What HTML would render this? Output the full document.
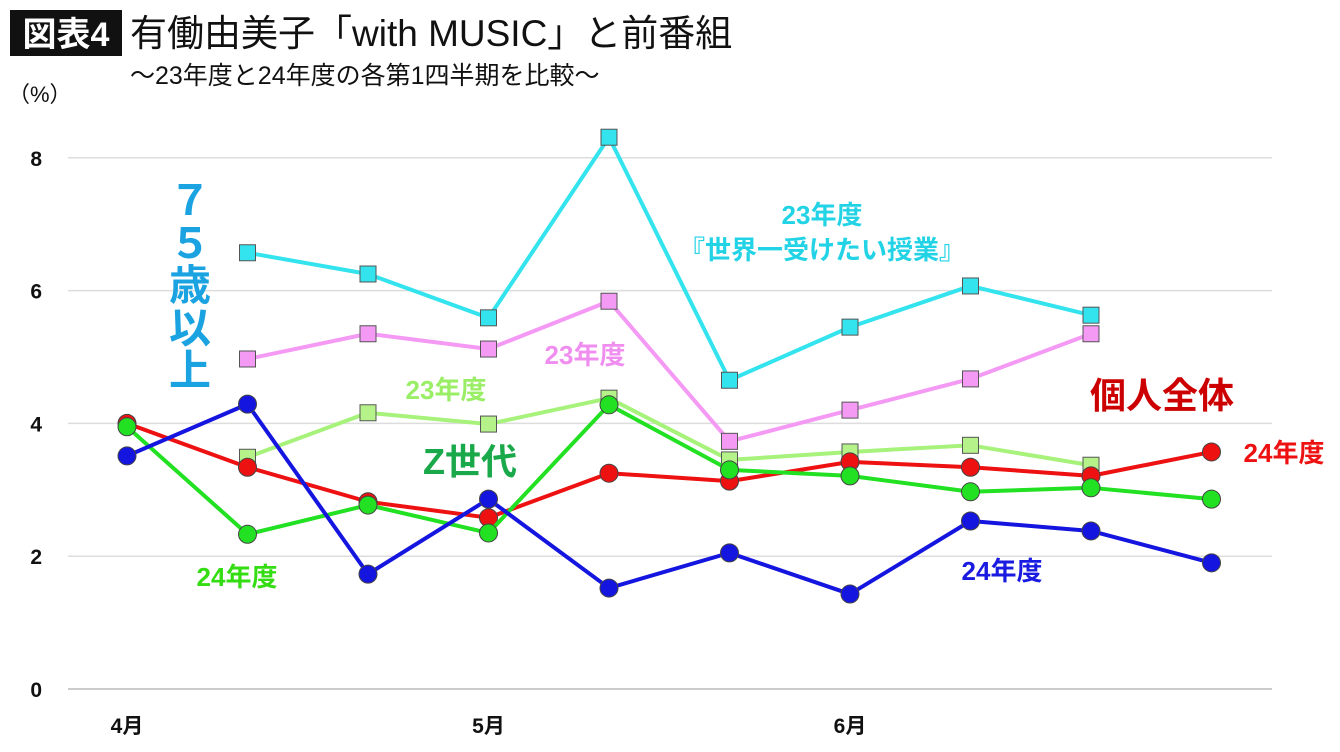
<!DOCTYPE html>
<html><head><meta charset="utf-8"><style>
body{margin:0;background:#fff;}
svg text{font-family:"Liberation Sans","Noto Sans CJK JP",sans-serif;}
</style></head><body>
<svg width="1340" height="747" xmlns="http://www.w3.org/2000/svg" id="chart">
<rect x="10" y="10" width="112" height="46" fill="#111"/>
<text x="66" y="46" font-size="34" font-weight="bold" fill="#fff" text-anchor="middle">図表4</text>
<text x="130" y="46" font-size="37" fill="#111">有働由美子「with MUSIC」と前番組</text>
<text x="130" y="84" font-size="25" fill="#111">〜23年度と24年度の各第1四半期を比較〜</text>
<text x="8" y="102" font-size="22" fill="#111">（%）</text>
<g id="grid"></g><g id="series"></g>
<text x="190" y="215" font-size="42" font-weight="bold" fill="#1aa3e0" text-anchor="middle">７</text>
<text x="190" y="258" font-size="42" font-weight="bold" fill="#1aa3e0" text-anchor="middle">５</text>
<text x="190" y="300" font-size="42" font-weight="bold" fill="#1aa3e0" text-anchor="middle">歳</text>
<text x="190" y="343" font-size="42" font-weight="bold" fill="#1aa3e0" text-anchor="middle">以</text>
<text x="190" y="385" font-size="42" font-weight="bold" fill="#1aa3e0" text-anchor="middle">上</text>
<text x="822" y="224" font-size="26" font-weight="bold" fill="#22d3e6" text-anchor="middle">23年度</text>
<text x="822" y="259" font-size="26" font-weight="bold" fill="#22d3e6" text-anchor="middle">『世界一受けたい授業』</text>
<text x="585" y="364" font-size="26" font-weight="bold" fill="#f08ef0" text-anchor="middle">23年度</text>
<text x="446" y="399" font-size="26" font-weight="bold" fill="#99ee66" text-anchor="middle">23年度</text>
<text x="470" y="474" font-size="36" font-weight="bold" fill="#19a84a" text-anchor="middle">Z世代</text>
<text x="237" y="586" font-size="26" font-weight="bold" fill="#33dd11" text-anchor="middle">24年度</text>
<text x="1002" y="580" font-size="26" font-weight="bold" fill="#1a1ae0" text-anchor="middle">24年度</text>
<text x="1162" y="408" font-size="36" font-weight="bold" fill="#cc0000" text-anchor="middle">個人全体</text>
<text x="1284" y="462" font-size="26" font-weight="bold" fill="#ee1111" text-anchor="middle">24年度</text>
</svg>
<script>
const yTicks=[0,2,4,6,8];
const xLabels=["4月","","","5月","","","6月","","",""];
const cyan23=[null,6.57,6.25,5.59,8.31,4.65,5.45,6.07,5.63,null];
const pink23=[null,4.97,5.35,5.12,5.84,3.73,4.20,4.67,5.35,null];
const lgreen23=[null,3.49,4.16,3.99,4.38,3.45,3.57,3.67,3.37,null];
const red24=[4.0,3.34,2.82,2.58,3.25,3.13,3.42,3.34,3.21,3.57];
const green24=[3.95,2.33,2.77,2.35,4.28,3.30,3.21,2.97,3.03,2.86];
const blue24=[3.51,4.29,1.73,2.86,1.52,2.05,1.43,2.53,2.38,1.90];
const NS="http://www.w3.org/2000/svg";
const x=i=>127+i*120.5, y=v=>689-v*66.4;
function mk(t,a,p){const e=document.createElementNS(NS,t);for(const k in a)e.setAttribute(k,a[k]);p.appendChild(e);return e;}
const g=document.getElementById('grid');
yTicks.forEach(v=>{const l=mk('line',{x1:68,x2:1272,y1:y(v),y2:y(v),stroke:v===0?'#bbb':'#ddd','stroke-width':1.5},g);


const t=mk('text',{x:42,y:y(v)+8,'font-size':21,'font-weight':'bold','text-anchor':'end',fill:'#111'},g);t.textContent=v;

});
xLabels.forEach((s,i)=>{if(!s)return;const t=mk('text',{x:x(i),y:733,'font-size':21,'font-weight':'bold','text-anchor':'middle',fill:'#111'},g);t.textContent=s;

});
const S=document.getElementById('series');
function draw(d,col,mcol,shape,name){
 const pts=[];d.forEach((v,i)=>{if(v!=null)pts.push([x(i),y(v)]);});
 const p=mk('polyline',{points:pts.map(q=>q.join(',')).join(' '),fill:'none',stroke:col,'stroke-width':4,'stroke-linejoin':'round'},S);
 
 
 pts.forEach(q=>{let m;
  if(shape==='sq')m=mk('rect',{x:q[0]-8,y:q[1]-8,width:16,height:16,fill:mcol,stroke:'#555','stroke-width':1},S);
  else m=mk('circle',{cx:q[0],cy:q[1],r:9,fill:mcol,stroke:'#444','stroke-width':1},S);
  
  });
}
draw(cyan23,'#33e3ee','#33e3ee','sq','cyan-75-23');
draw(pink23,'#f49af4','#f49af4','sq','pink-75-23');
draw(lgreen23,'#a6f27a','#b6f28a','sq','lightgreen-z-23');
draw(red24,'#ee1111','#ee1111','c','red-total-24');
draw(green24,'#22e022','#22e022','c','green-z-24');
draw(blue24,'#1515e0','#1515e0','c','blue-75-24');
</script>
</body></html>
